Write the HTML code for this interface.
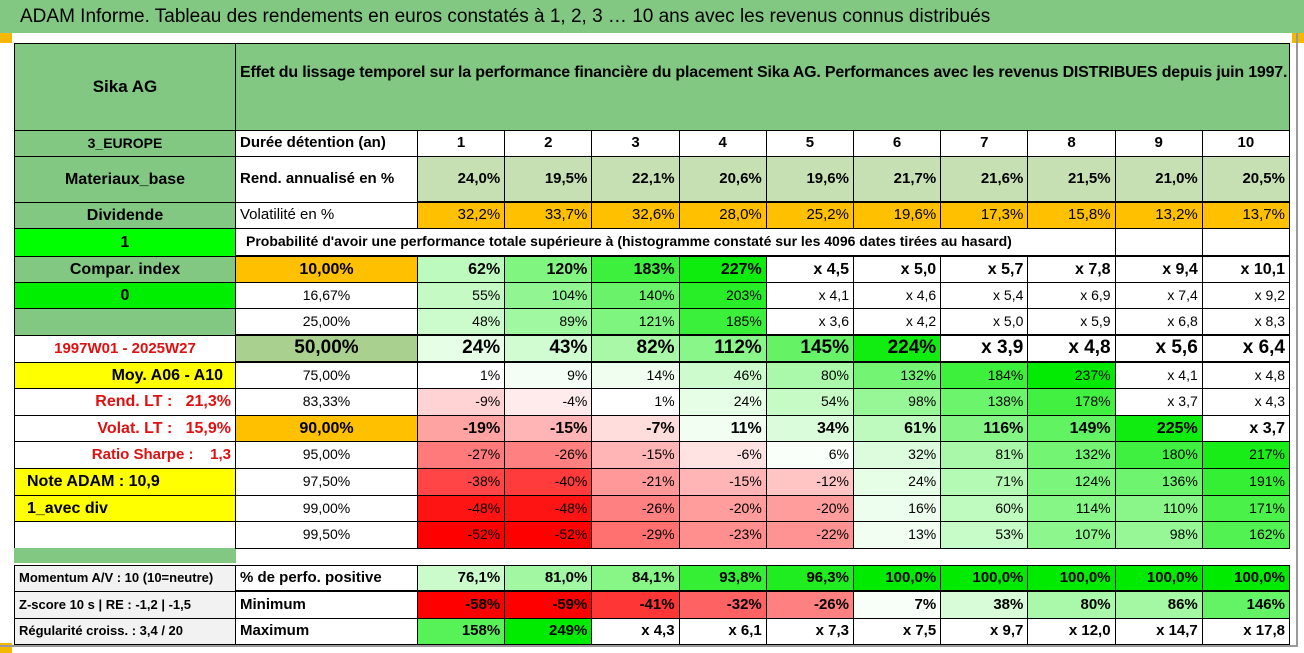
<!DOCTYPE html>
<html><head><meta charset="utf-8">
<style>
html,body{margin:0;padding:0;background:#fff;}
#root{position:relative;width:1304px;height:653px;overflow:hidden;font-family:"Liberation Sans Narrow","Liberation Sans",sans-serif;}
.c{position:absolute;box-sizing:border-box;border:1px solid #000;display:flex;align-items:center;white-space:nowrap;overflow:hidden;font-size:14px;color:#000;line-height:1.1;}
.r{justify-content:flex-end;padding-right:4px;}
.m{justify-content:center;}
.l{justify-content:flex-start;padding-left:4px;}
.b{font-weight:bold;}
.sq{position:absolute;background:#f5b800;width:12px;height:10px;}
</style></head><body>
<div id="root">
<div style="position:absolute;left:0;top:0;width:1304px;height:33px;background:#82c882;font-size:19px;display:flex;align-items:center;padding-left:20px;box-sizing:border-box;">ADAM Informe. Tableau des rendements en euros constatés à 1, 2, 3 … 10 ans avec les revenus connus distribués</div>
<div class="sq" style="left:0;top:33px;"></div>
<div class="sq" style="left:1292px;top:33px;"></div>
<div class="sq" style="left:0;top:643px;"></div>
<div style="position:absolute;left:1296px;top:33px;width:2px;height:612px;background:#999;"></div>
<div style="position:absolute;left:0;top:645px;width:1298px;height:2px;background:#999;"></div>
</div>
<script>
const years=["1","2","3","4","5","6","7","8","9","10"];
const rend=[24.0,19.5,22.1,20.6,19.6,21.7,21.6,21.5,21.0,20.5];
const vol=[32.2,33.7,32.6,28.0,25.2,19.6,17.3,15.8,13.2,13.7];
const q10=[62,120,183,227,"x 4,5","x 5,0","x 5,7","x 7,8","x 9,4","x 10,1"];
const q16=[55,104,140,203,"x 4,1","x 4,6","x 5,4","x 6,9","x 7,4","x 9,2"];
const q25=[48,89,121,185,"x 3,6","x 4,2","x 5,0","x 5,9","x 6,8","x 8,3"];
const q50=[24,43,82,112,145,224,"x 3,9","x 4,8","x 5,6","x 6,4"];
const q75=[1,9,14,46,80,132,184,237,"x 4,1","x 4,8"];
const q83=[-9,-4,1,24,54,98,138,178,"x 3,7","x 4,3"];
const q90=[-19,-15,-7,11,34,61,116,149,225,"x 3,7"];
const q95=[-27,-26,-15,-6,6,32,81,132,180,217];
const q975=[-38,-40,-21,-15,-12,24,71,124,136,191];
const q99=[-48,-48,-26,-20,-20,16,60,114,110,171];
const q995=[-52,-52,-29,-23,-22,13,53,107,98,162];
const posPct=[76.1,81.0,84.1,93.8,96.3,100.0,100.0,100.0,100.0,100.0];
const minPerf=[-58,-59,-41,-32,-26,7,38,80,86,146];
const maxPerf=[158,249,"x 4,3","x 6,1","x 7,3","x 7,5","x 9,7","x 12,0","x 14,7","x 17,8"];
const quantLabels=["10,00%","16,67%","25,00%","50,00%","75,00%","83,33%","90,00%","95,00%","97,50%","99,00%","99,50%"];

const root=document.getElementById('root');
const X0=14,X1=235,X2=417,CW=87.2;
function colX(i){return X2+i*CW;}
function cell(x,y,w,h,txt,cls,bg,extra){
  const d=document.createElement('div');
  d.className='c '+(cls||'');
  d.style.left=x+'px';d.style.top=y+'px';d.style.width=(w+1)+'px';d.style.height=(h+1)+'px';
  if(bg)d.style.background=bg;
  if(extra)Object.assign(d.style,extra);
  d.textContent=txt;
  root.appendChild(d);
  return d;
}
function mix(t,r,g,b){t=Math.max(0,Math.min(1,t));return 'rgb('+Math.round(255+(r-255)*t)+','+Math.round(255+(g-255)*t)+','+Math.round(255+(b-255)*t)+')';}
function pctColor(v){
  if(typeof v!=='number')return '#fff';
  if(v<0)return mix(-v/52,255,0,0);
  return mix(v/240,0,235,0);
}
function fmt(v){return typeof v==='number'?(v+'%'):v;}
function fmt1(v){return v.toFixed(1).replace('.',',')+'%';}

let d=cell(X0,43,X1-X0,87,"Sika AG","m b","#82c882",{fontSize:'17px'});


d=cell(X1,43,1289-X1,87,"","l b","#82c882",{fontSize:'16px',letterSpacing:'-0.2px',whiteSpace:'normal',lineHeight:'31px',alignItems:'flex-start',paddingTop:'13px'});
d.innerHTML="Effet du lissage temporel sur la performance financière du placement Sika AG. Performances avec les revenus DISTRIBUES depuis juin 1997.";



const left=[
 [130,26,"3_EUROPE","m b","#82c882",{}],
 [156,46,"Materiaux_base","m b","#82c882",{fontSize:'16px'}],
 [202,26,"Dividende","m b","#82c882",{fontSize:'16px'}],
 [228,28,"1","m b","#00ff00",{fontSize:'16px'}],
 [256,26,"Compar. index","m b","#82c882",{fontSize:'16px'}],
 [282,26,"0","m b","#00ee00",{fontSize:'16px'}],
 [308,27,"","m","#82c882",{}],
 [335,27,"1997W01 - 2025W27","m b","#fff",{color:'#e01010',fontSize:'15px'}],
 [362,26,"Moy. A06 - A10","r b","#ffff00",{fontSize:'16px',paddingRight:'12px'}],
 [388,27,"Rend. LT :   21,3%","r b","#fff",{color:'#e01010',fontSize:'16px',whiteSpace:'pre'}],
 [415,26,"Volat. LT :   15,9%","r b","#fff",{color:'#e01010',fontSize:'16px',whiteSpace:'pre'}],
 [441,27,"Ratio Sharpe :    1,3","r b","#fff",{color:'#e01010',fontSize:'15px',whiteSpace:'pre'}],
 [468,27,"Note ADAM : 10,9","l b","#ffff00",{fontSize:'16px',paddingLeft:'12px'}],
 [495,26,"1_avec div","l b","#ffff00",{fontSize:'16px',paddingLeft:'12px'}],
 [521,27,"","m","#fff",{}],
 [548,14,"","m","#82c882",{border:'none'}],
 [565,26,"Momentum A/V : 10 (10=neutre)","l b","#f2f2f2",{fontSize:'13px'}],
 [591,27,"Z-score 10 s | RE : -1,2 | -1,5","l b","#f2f2f2",{fontSize:'13px'}],
 [618,26,"Régularité croiss. : 3,4 / 20","l b","#f2f2f2",{fontSize:'13px'}]
];
left.forEach((r,i)=>{
  const e=cell(X0,r[0],X1-X0,r[1],r[2],r[3],r[4],r[5]);
  
  
});

d=cell(X1,130,X2-X1,26,"Durée détention (an)","l b","#fff",{fontSize:'15px'});


d=cell(X1,156,X2-X1,46,"Rend. annualisé en %","l b","#fff",{fontSize:'15px'});


d=cell(X1,202,X2-X1,26,"Volatilité en %","l","#fff",{fontSize:'15px'});


d=cell(X1,228,colX(8)-X1,28,"Probabilité d'avoir une performance totale supérieure à (histogramme constaté sur les 4096 dates tirées au hasard)","l b","#fff",{fontSize:'14px',paddingLeft:'10px',borderBottom:'2px solid #000'});


for(let i=8;i<10;i++){
  d=cell(colX(i),228,CW,28,"","m","#fff",{borderBottom:'2px solid #000'});
  
  
}

years.forEach((v,i)=>{
  let e=cell(colX(i),130,CW,26,v,"m b","#fff",{fontSize:'15px'});
  
  
  e=cell(colX(i),156,CW,46,fmt1(rend[i]),"r b","#c6e0b4",{fontSize:'15px',borderBottom:'2px solid #000'});
  
  
  e=cell(colX(i),202,CW,26,fmt1(vol[i]),"r","#ffc000",{fontSize:'15px'});
  
  
});

const qRows=[q10,q16,q25,q50,q75,q83,q90,q95,q975,q99,q995];
const qY=[256,282,308,335,362,388,415,441,468,495,521];
const qH=[26,26,27,27,26,27,26,27,27,26,27];
const qBold=[true,false,false,true,false,false,true,false,false,false,false];
const qLabelBg=["#ffc000","#fff","#fff","#a9d08e","#fff","#fff","#ffc000","#fff","#fff","#fff","#fff"];
qRows.forEach((row,r)=>{
  const thick=(r===2||r===3)?{borderBottom:'2px solid #000'}:{};
  let e=cell(X1,qY[r],X2-X1,qH[r],quantLabels[r],"m"+(qBold[r]?" b":""),qLabelBg[r],Object.assign({fontSize:r===3?'19px':(qBold[r]?'16px':'14px')},thick));
  
  
  row.forEach((v,i)=>{
    const c=cell(colX(i),qY[r],CW,qH[r],fmt(v),"r"+(qBold[r]?" b":""),pctColor(v),Object.assign({fontSize:r===3?'19px':(qBold[r]?'16px':'14px')},thick));
    
    
  });
});

d=cell(X1,565,X2-X1,26,"% de perfo. positive","l b","#fff",{fontSize:'15px',borderBottom:'2px solid #000'});


d=cell(X1,591,X2-X1,27,"Minimum","l b","#fff",{fontSize:'15px'});


d=cell(X1,618,X2-X1,26,"Maximum","l b","#fff",{fontSize:'15px'});


posPct.forEach((v,i)=>{
  const e=cell(colX(i),565,CW,26,fmt1(v),"r b",mix((v-70)/30,0,235,0),{fontSize:'15px',borderBottom:'2px solid #000'});
  
  
});
minPerf.forEach((v,i)=>{
  const e=cell(colX(i),591,CW,27,fmt(v),"r b",pctColor(v),{fontSize:'15px'});
  
  
});
maxPerf.forEach((v,i)=>{
  const e=cell(colX(i),618,CW,26,fmt(v),"r b",pctColor(v),{fontSize:'15px'});
  
  
});
</script>
</body></html>
